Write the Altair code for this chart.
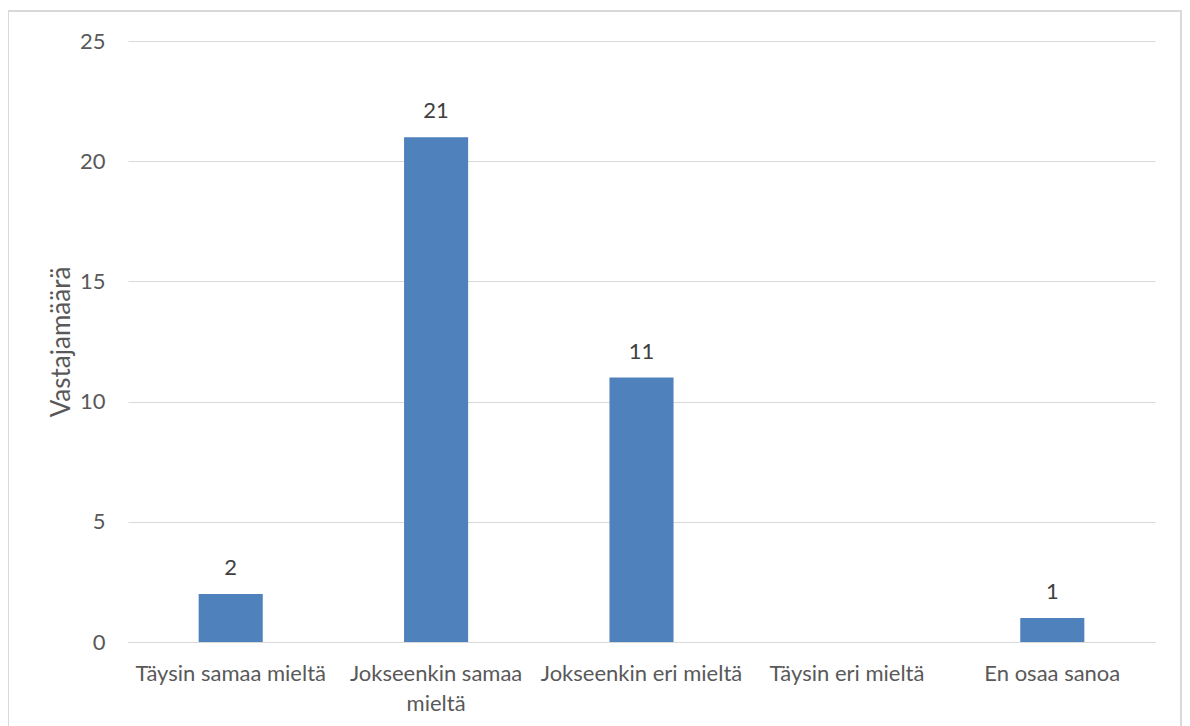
import altair as alt
import pandas as pd

categories = ["Täysin samaa mieltä", "Jokseenkin samaa mieltä", "Jokseenkin eri mieltä", "Täysin eri mieltä", "En osaa sanoa"]
values = [2, 21, 11, 0, 1]
labels = ["2", "21", "11", "", "1"]
y_ticks = [0, 5, 10, 15, 20, 25]

df = pd.DataFrame({"cat": categories, "val": values, "lab": labels})

FONT = "Lato"
TXT = "#595959"

x_enc = alt.X("cat:N", sort=categories, title=None,
              scale=alt.Scale(paddingInner=0.688, paddingOuter=0.344),
              axis=alt.Axis(labelAngle=0, labelFontSize=22, labelColor=TXT, labelFont=FONT,
                            labelPadding=21, ticks=False, domain=True, domainColor="#d9d9d9",
                            labelLimit=300, labelLineHeight=30,
                            labelExpr="datum.value == 'Jokseenkin samaa mieltä' ? ['Jokseenkin samaa', 'mieltä'] : datum.value"))
y_enc = alt.Y("val:Q", title="Vastajamäärä",
              scale=alt.Scale(domain=[0, 25], nice=False),
              axis=alt.Axis(values=y_ticks, ticks=False, domain=False, labelFontSize=22,
                            labelColor=TXT, labelFont=FONT, labelPadding=23,
                            gridColor="#d9d9d9", titleFont=FONT, titleFontSize=26,
                            titleFontWeight="normal", titleColor=TXT, titlePadding=5))

bars = alt.Chart(df).mark_bar(color="#4f81bd").encode(x=x_enc, y=y_enc)
text = alt.Chart(df).mark_text(baseline="alphabetic", dy=-19, fontSize=22, font=FONT, color="#404040").encode(
    x=alt.X("cat:N", sort=categories), y="val:Q", text="lab:N")

border = alt.Chart(pd.DataFrame({"a": [0]})).mark_rect(fill=None, stroke="#d9d9d9", strokeWidth=2).encode(
    x=alt.value(-120), x2=alt.value(1053), y=alt.value(-30), y2=alt.value(700))

chart = alt.layer(border, bars, text).properties(
    width=1027, height=601,
    autosize=alt.AutoSizeParams(type="none"),
    padding={"left": 120, "top": 33, "right": 27, "bottom": 84},
).configure(background="white").configure_view(stroke=None)

chart.save("out.html", embed_options={"renderer": "svg", "actions": False})
